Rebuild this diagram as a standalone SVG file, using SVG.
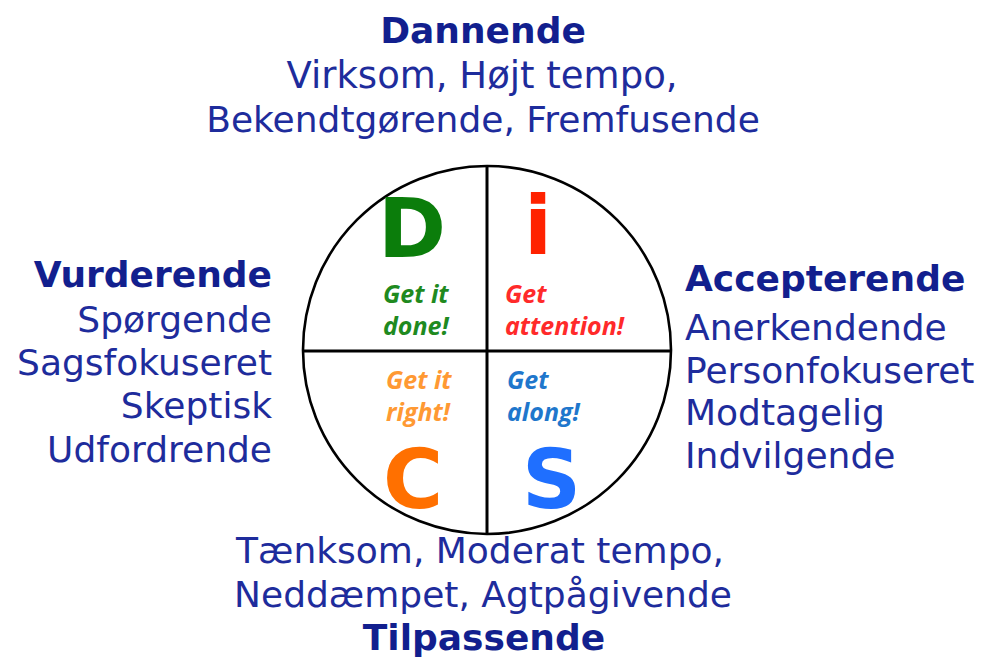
<svg xmlns="http://www.w3.org/2000/svg" width="986" height="657" viewBox="0 0 986 657">
<style>
.t{font-family:"DejaVu Sans",Verdana,sans-serif;font-size:36px;fill:#1e2c9c}
.b{font-weight:bold;fill:#121f8e}
.big{font-family:"DejaVu Sans",Verdana,sans-serif;font-weight:bold;font-size:82px}
.lab{font-family:"Open Sans","Lato",sans-serif;font-style:italic;font-weight:bold;font-size:25px}
</style>
<rect width="986" height="657" fill="#fff"/>
<g id="wheel">
<circle cx="487" cy="350" r="184" fill="#fff" stroke="#000" stroke-width="2.6"/>
</g>
<g id="connectors" stroke="#000" stroke-width="3">
<line x1="487" y1="166" x2="487" y2="534"/>
<line x1="303" y1="351" x2="671" y2="351"/>
</g>
<g id="top" text-anchor="middle">
<text class="t b" x="483" y="43">Dannende</text>
<text class="t" x="482" y="88" style="font-size:37px">Virksom, Højt tempo,</text>
<text class="t" x="483" y="132">Bekendtgørende, Fremfusende</text>
</g>
<g id="left" text-anchor="end">
<text class="t b" x="272" y="287">Vurderende</text>
<text class="t" x="272" y="332">Spørgende</text>
<text class="t" x="272" y="375">Sagsfokuseret</text>
<text class="t" x="272" y="418">Skeptisk</text>
<text class="t" x="272" y="462">Udfordrende</text>
</g>
<g id="right">
<text class="t b" x="685" y="291">Accepterende</text>
<text class="t" x="685" y="340">Anerkendende</text>
<text class="t" x="685" y="383">Personfokuseret</text>
<text class="t" x="685" y="425">Modtagelig</text>
<text class="t" x="685" y="468">Indvilgende</text>
</g>
<g id="bottom" text-anchor="middle">
<text class="t" x="480" y="563">Tænksom, Moderat tempo,</text>
<text class="t" x="483" y="607">Neddæmpet, Agtpågivende</text>
<text class="t b" x="484" y="650">Tilpassende</text>
</g>
<g id="D">
<text class="big" x="378" y="257" fill="#0b7d0b">D</text>
<text class="lab" x="383" y="303" fill="#1f8a1f">Get it</text>
<text class="lab" x="383" y="335" fill="#1f8a1f">done!</text>
</g>
<g id="i">
<text class="big" x="524" y="254" fill="#ff2200">i</text>
<text class="lab" x="505" y="303" fill="#ff2a2a">Get</text>
<text class="lab" x="505" y="335" fill="#ff2a2a">attention!</text>
</g>
<g id="C">
<text class="big" x="383" y="508" fill="#ff7000">C</text>
<text class="lab" x="386" y="389" fill="#ff9933">Get it</text>
<text class="lab" x="386" y="421" fill="#ff9933">right!</text>
</g>
<g id="S">
<text class="big" x="522" y="508" fill="#1f6fff">S</text>
<text class="lab" x="507" y="389" fill="#1f77cc">Get</text>
<text class="lab" x="507" y="421" fill="#1f77cc">along!</text>
</g>
</svg>
